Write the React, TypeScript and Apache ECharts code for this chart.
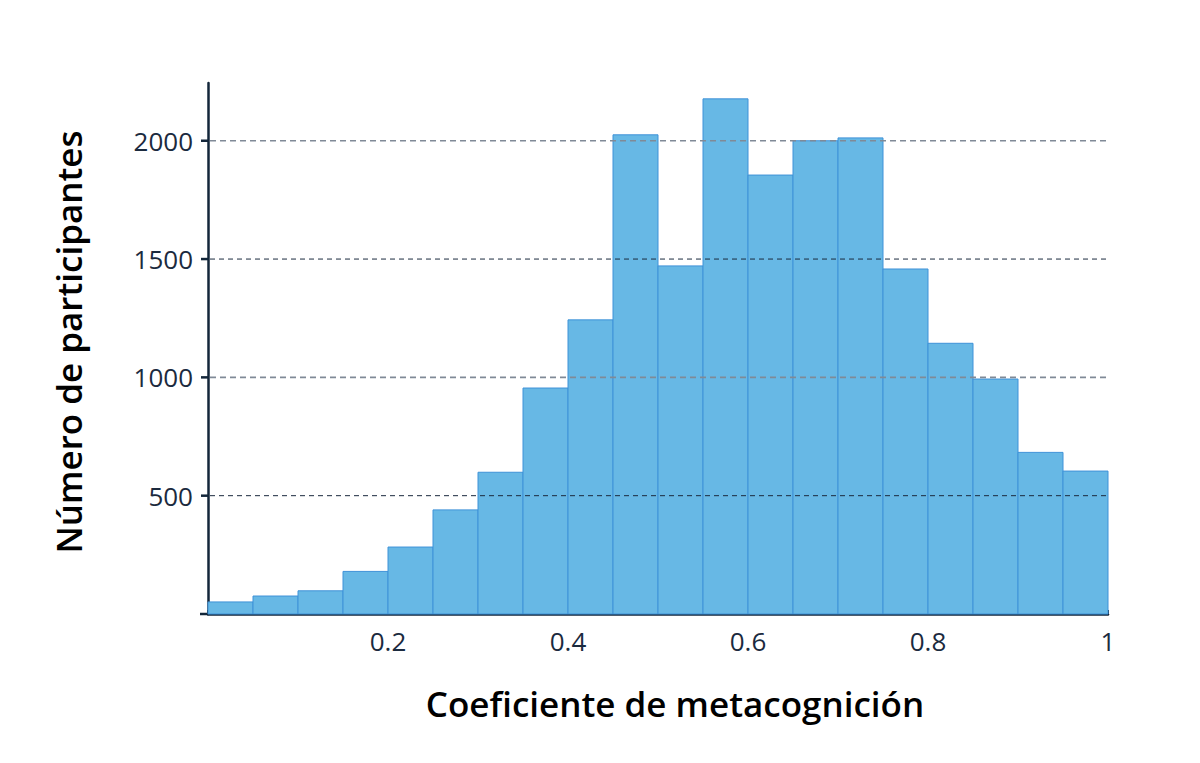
import React, { useEffect, useRef } from "react";
import * as echarts from "echarts";

const binStarts = [0, 0.05, 0.1, 0.15, 0.2, 0.25, 0.3, 0.35, 0.4, 0.45, 0.5, 0.55, 0.6, 0.65, 0.7, 0.75, 0.8, 0.85, 0.9, 0.95];
const binWidth = 0.05;
const counts = [51, 76, 98, 180, 283, 440, 599, 955, 1243, 2025, 1471, 2177, 1855, 2000, 2012, 1458, 1144, 993, 683, 604];
const gridValues = [500, 1000, 1500, 2000];
const yMax = 2244;
const xTitle = "Coeficiente de metacognición";
const yTitle = "Número de participantes";

const FONT = "'Open Sans', 'Noto Sans', sans-serif";

export default function App() {
  const ref = useRef<HTMLDivElement>(null);
  useEffect(() => {
    document.body.style.margin = "0";
    if (!ref.current) return;
    const chart = echarts.init(ref.current, null, { renderer: "svg" });
    const barData = binStarts.map((s, i) => [s, s + binWidth, counts[i]]);
    chart.setOption({
      animation: false,
      backgroundColor: "#ffffff",
      grid: { left: 208, right: 92, top: 83, bottom: 149, containLabel: false },
      xAxis: {
        type: "value",
        min: 0,
        max: 1,
        interval: 0.2,
        axisLine: { show: true, lineStyle: { color: "#13263a", width: 2.5 } },
        axisTick: { show: true, inside: true, length: 4, lineStyle: { color: "#13263a", width: 2 } },
        splitLine: { show: false },
        axisLabel: {
          margin: 14,
          fontFamily: FONT,
          fontSize: 26,
          color: "#1b2a3e",
          formatter: (v: number) => (v === 0 ? "" : String(Math.round(v * 10) / 10)),
        },
      },
      yAxis: {
        type: "value",
        min: 0,
        max: yMax,
        interval: 500,
        axisLine: { show: true, lineStyle: { color: "#13263a", width: 2.5 } },
        axisTick: { show: false },
        splitLine: { show: false },
        axisLabel: {
          margin: 15,
          fontFamily: FONT,
          fontSize: 26,
          color: "#1b2a3e",
          formatter: (v: number) => (v === 0 || v % 500 !== 0 ? "" : String(v)),
        },
      },
      series: [
        {
          type: "custom",
          z: 2,
          data: barData,
          encode: { x: [0, 1], y: 2 },
          renderItem: (params: any, api: any) => {
            const p0 = api.coord([api.value(0), 0]);
            const p1 = api.coord([api.value(1), api.value(2)]);
            return {
              type: "rect",
              shape: { x: p0[0], y: p1[1], width: p1[0] - p0[0], height: p0[1] - p1[1] },
              style: { fill: "#67b8e5", stroke: "#3f92d8", lineWidth: 1 },
            };
          },
        },
        {
          type: "custom",
          z: 5,
          data: gridValues.map((v) => [v]),
          encode: { y: 0 },
          renderItem: (params: any, api: any) => {
            const v = api.value(0);
            const a = api.coord([0, v]);
            const b = api.coord([1, v]);
            const grey = v % 1000 === 0;
            return {
              type: "group",
              children: [
                {
                  type: "line",
                  shape: { x1: a[0] + 2, y1: a[1], x2: b[0], y2: b[1] },
                  style: grey
                    ? { stroke: "#808a97", lineWidth: 1.6, lineDash: [6, 4] }
                    : { stroke: "#1b2a3e", lineWidth: 1, lineDash: [5, 4] },
                },
                {
                  type: "line",
                  shape: { x1: a[0] - 7, y1: a[1], x2: a[0], y2: a[1] },
                  style: { stroke: "#13263a", lineWidth: 2.5 },
                },
              ],
            };
          },
        },
      ],
      graphic: [
        {
          type: "line",
          shape: { x1: 200, y1: 614, x2: 208, y2: 614 },
          style: { stroke: "#13263a", lineWidth: 2.5 },
        },
        {
          type: "text",
          x: 675,
          y: 703,
          style: {
            text: xTitle,
            fontFamily: FONT,
            fontSize: 35,
            fontWeight: 600,
            fill: "#000000",
            textAlign: "center",
            textVerticalAlign: "middle",
          },
        },
        {
          type: "text",
          x: 68,
          y: 342,
          rotation: Math.PI / 2,
          style: {
            text: yTitle,
            fontFamily: FONT,
            fontSize: 35,
            fontWeight: 600,
            fill: "#000000",
            textAlign: "center",
            textVerticalAlign: "middle",
          },
        },
      ],
    });
    return () => chart.dispose();
  }, []);
  return <div ref={ref} style={{ width: 1200, height: 763 }} />;
}
